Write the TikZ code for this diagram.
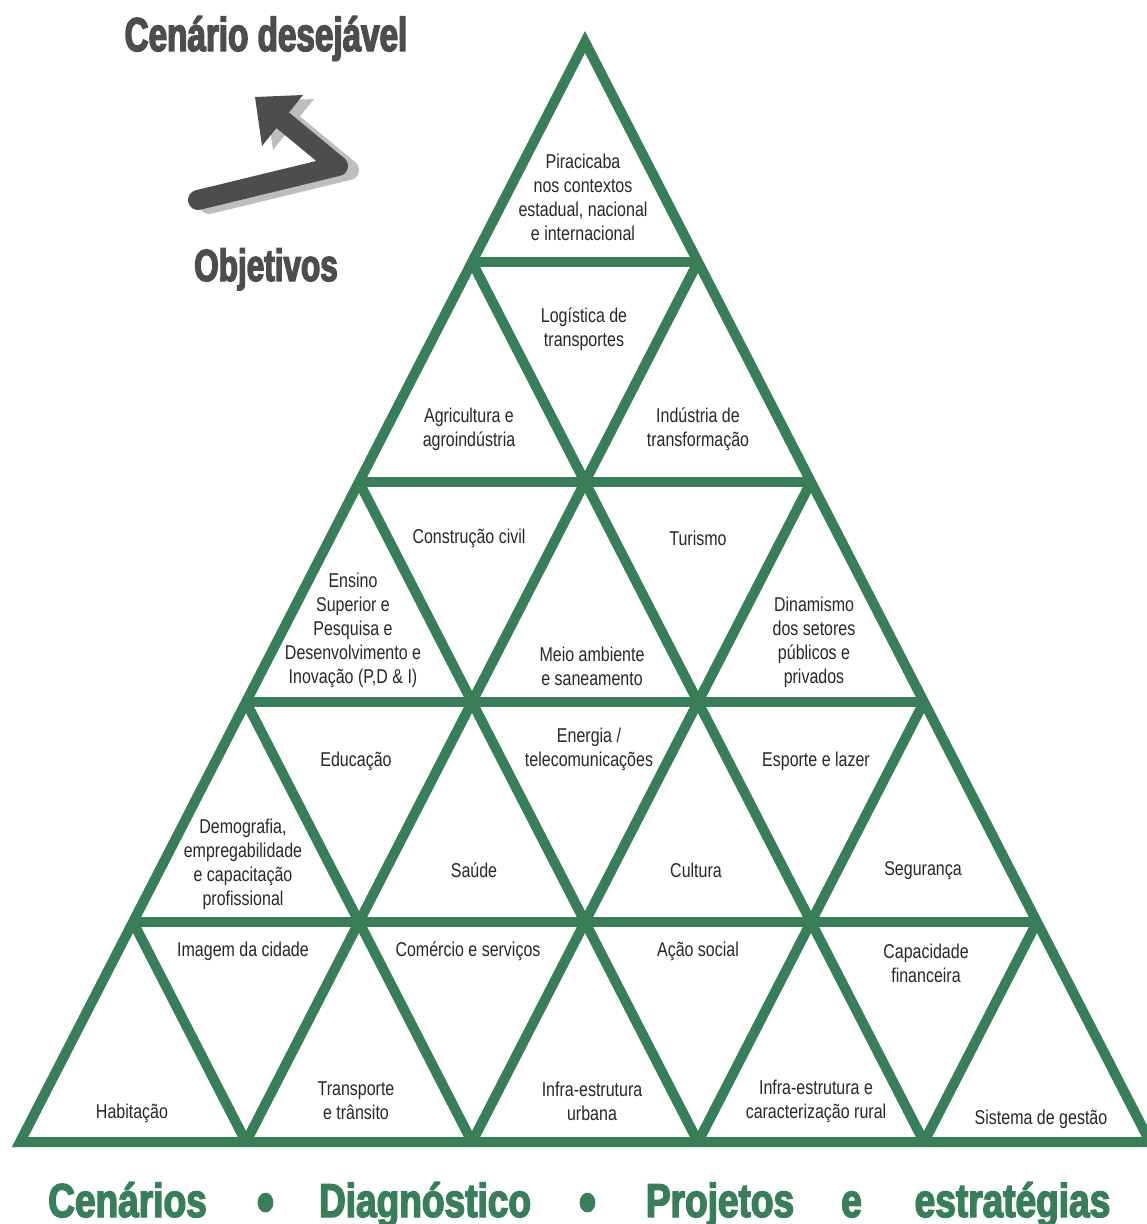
\documentclass[tikz,border=0pt]{standalone}
\usepackage{fontspec}
\setmainfont{Liberation Sans}[FakeStretch=0.8]
\newfontfamily\grayhead{Liberation Sans}[FakeStretch=0.70,FakeBold=3]
\newfontfamily\greenhead{Liberation Sans}[FakeStretch=0.78,FakeBold=3]
\definecolor{pyrgreen}{RGB}{56,126,88}
\definecolor{txtgray}{RGB}{40,40,40}
\definecolor{headgray}{RGB}{77,77,79}
\definecolor{shadowgray}{RGB}{188,190,192}
\begin{document}
\begin{tikzpicture}[x=1pt,y=-1pt,
  gridline/.style={draw=pyrgreen,line width=10pt},
  lbl/.style={font=\fontsize{20}{24}\selectfont, align=center, text=txtgray, inner sep=0pt},
  grayhd/.style={font=\grayhead\bfseries\fontsize{47.5}{50}\selectfont, text=headgray, inner sep=0pt, anchor=base},
  greenhd/.style={font=\greenhead\bfseries\fontsize{47.5}{50}\selectfont, text=pyrgreen, inner sep=0pt, anchor=base},
  bulletdot/.style={font=\greenhead\bfseries\fontsize{62}{64}\selectfont, text=pyrgreen, inner sep=0pt, anchor=base},
  arrowline/.style={line width=20pt, line cap=round, line join=round},
  shd/.style={xshift=11pt, yshift=-4pt},
]
\useasboundingbox[fill=white] (0,0) rectangle (1147,1224);

% ---- vertices of the triangular grid
\foreach \r in {0,...,5}{
  \foreach \k in {0,...,\r}{
    \coordinate (v\r\k) at ({585+(2*\k-\r)*113}, {42+\r*220});
  }
}
% outer triangle
\draw[gridline, line join=miter] (v00) -- (v50) -- (v55) -- cycle;
% horizontal lines
\foreach \r in {1,...,4}{ \draw[gridline] (v\r0) -- (v\r\r); }
% lines parallel to the left side
\foreach \k in {1,...,4}{ \draw[gridline] (v\k\k) -- (v5\k); }
% lines parallel to the right side
\foreach \m in {1,...,4}{
  \pgfmathtruncatemacro\j{5-\m}
  \draw[gridline] (v\m0) -- (v5\j);
}

% ---- arrow with shadow
\coordinate (aS) at (198,200);
\coordinate (aB) at (338,166);
\coordinate (aE) at (280,118);
\coordinate (hT) at (255,97);
\coordinate (hU) at (303,95);
\coordinate (hL) at (262,146);
\draw[arrowline, shadowgray] ([shd]aS) -- ([shd]aB) -- ([shd]aE);
\fill[shadowgray] ([shd]hT) -- ([shd]hU) -- ([shd]hL) -- cycle;
\draw[arrowline, headgray] (aS) -- (aB) -- (aE);
\fill[headgray] (hT) -- (hU) -- (hL) -- cycle;

% ---- headings
\node[grayhd] (cen) at (266,51) {Cenário desejável};
\node[grayhd, font=\grayhead\bfseries\fontsize{45}{48}\selectfont] (obj) at (266,281) {Objetivos};

\node[greenhd] (g1) at (127.5,1217) {Cenários};
\node[bulletdot] (b1) at (265.5,1223) {•};
\node[greenhd] (g2) at (425,1217) {Diagnóstico};
\node[bulletdot] (b2) at (587.5,1223) {•};
\node[greenhd] (g3) at (720,1217) {Projetos};
\node[greenhd] (g4) at (851.5,1217) {e};
\node[greenhd] (g5) at (1012.5,1217) {estratégias};

% ---- labels
\node[lbl] (l1) at (583,197) {Piracicaba\\nos contextos\\estadual, nacional\\e internacional};
\node[lbl] (l2) at (584,329) {Logística de\\transportes};
\node[lbl] (l3) at (469,429) {Agricultura e\\agroindústria};
\node[lbl] (l4) at (698,429) {Indústria de\\transformação};
\node[lbl] (l5) at (469,538) {Construção civil};
\node[lbl] (l6) at (698,538) {Turismo};
\node[lbl] (l7) at (353,630) {Ensino\\Superior e\\Pesquisa e\\Desenvolvimento e\\Inovação (P,D \& I)};
\node[lbl] (l8) at (592,666) {Meio ambiente\\e saneamento};
\node[lbl] (l9) at (814,642) {Dinamismo\\dos setores\\públicos e\\privados};
\node[lbl] (l10) at (356,761) {Educação};
\node[lbl] (l11) at (589,749) {Energia /\\telecomunicações};
\node[lbl] (l12) at (816,761) {Esporte e lazer};
\node[lbl] (l13) at (243,864) {Demografia,\\empregabilidade\\e capacitação\\profissional};
\node[lbl] (l14) at (474,870) {Saúde};
\node[lbl] (l15) at (696,870) {Cultura};
\node[lbl] (l16) at (923,871) {Segurança};
\node[lbl] (l17) at (243,951) {Imagem da cidade};
\node[lbl] (l18) at (468,951) {Comércio e serviços};
\node[lbl] (l19) at (698,951) {Ação social};
\node[lbl] (l20) at (926,963) {Capacidade\\financeira};
\node[lbl] (l21) at (132,1113) {Habitação};
\node[lbl] (l22) at (356,1101) {Transporte\\e trânsito};
\node[lbl] (l23) at (592,1101) {Infra-estrutura\\urbana};
\node[lbl] (l24) at (816,1101) {Infra-estrutura e\\caracterização rural};
\node[lbl] (l25) at (1041,1119) {Sistema de gestão};
\end{tikzpicture}
\end{document}
